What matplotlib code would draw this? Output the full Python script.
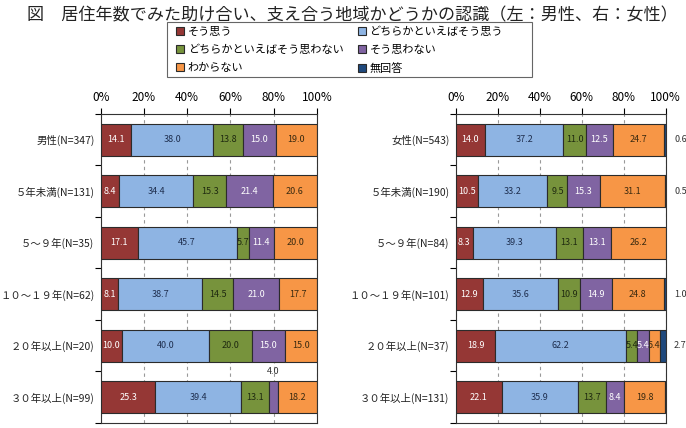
import matplotlib
matplotlib.use("Agg")
import matplotlib.pyplot as plt
from matplotlib.patches import Rectangle
import numpy as np

plt.rcParams["font.family"] = ["Noto Sans CJK JP", "DejaVu Sans"]

answers = ["そう思う", "どちらかといえばそう思う", "どちらかといえばそう思わない",
           "そう思わない", "わからない", "無回答"]
colors = ["#953735", "#8EB4E3", "#77933C", "#8064A2", "#F79646", "#1F497D"]
text_colors = ["white", "#1F2F4F", "#1F2A10", "white", "#3A2A10", "white"]

male_labels = ["男性(N=347)", "５年未満(N=131)", "５～９年(N=35)",
               "１０～１９年(N=62)", "２０年以上(N=20)", "３０年以上(N=99)"]
male_agree = [14.1, 8.4, 17.1, 8.1, 10.0, 25.3]
male_rather_agree = [38.0, 34.4, 45.7, 38.7, 40.0, 39.4]
male_rather_disagree = [13.8, 15.3, 5.7, 14.5, 20.0, 13.1]
male_disagree = [15.0, 21.4, 11.4, 21.0, 15.0, 4.0]
male_unknown = [19.0, 20.6, 20.0, 17.7, 15.0, 18.2]
male_noanswer = [0.0, 0.0, 0.0, 0.0, 0.0, 0.0]

female_labels = ["女性(N=543)", "５年未満(N=190)", "５～９年(N=84)",
                 "１０～１９年(N=101)", "２０年以上(N=37)", "３０年以上(N=131)"]
female_agree = [14.0, 10.5, 8.3, 12.9, 18.9, 22.1]
female_rather_agree = [37.2, 33.2, 39.3, 35.6, 62.2, 35.9]
female_rather_disagree = [11.0, 9.5, 13.1, 10.9, 5.4, 13.7]
female_disagree = [12.5, 15.3, 13.1, 14.9, 5.4, 8.4]
female_unknown = [24.7, 31.1, 26.2, 24.8, 5.4, 19.8]
female_noanswer = [0.6, 0.5, 0.0, 1.0, 2.7, 0.0]


def draw_panel(ax, labels, series):
    y = np.arange(len(labels))
    left = np.zeros(len(labels))
    handles = []
    for i, vals in enumerate(series):
        vals = np.array(vals)
        h = ax.barh(y, vals, left=left, height=0.62, color=colors[i],
                    edgecolor="#2b2b2b", linewidth=0.8, zorder=3, label=answers[i])
        handles.append(h)
        for j, v in enumerate(vals):
            if v <= 0:
                continue
            cx = left[j] + v / 2
            if i == 5:
                # no-answer values sit outside the right edge
                ax.text(107, y[j], f"{v:.1f}", ha="center", va="center",
                        fontsize=6.5, color="#333333", clip_on=False)
            elif v < 5:
                ax.text(cx, y[j] - 0.5, f"{v:.1f}", ha="center", va="center",
                        fontsize=6.5, color="#333333", zorder=5)
            else:
                ax.text(cx, y[j], f"{v:.1f}", ha="center", va="center",
                        fontsize=6.5, color=text_colors[i], zorder=5)
        left = left + vals
    ax.set_xlim(0, 100)
    ax.set_ylim(len(labels) - 0.5, -0.5)
    ax.set_yticks(y)
    ax.set_yticklabels(labels, fontsize=7.5, color="#222222")
    ax.set_yticks(np.arange(len(labels) + 1) - 0.5, minor=True)
    ax.tick_params(axis="y", which="major", length=0, pad=4.5)
    ax.tick_params(axis="y", which="minor", length=4, width=0.8)
    ax.set_xticks([0, 20, 40, 60, 80, 100])
    ax.set_xticklabels(["0%", "20%", "40%", "60%", "80%", "100%"], fontsize=8.5)
    ax.xaxis.tick_top()
    ax.tick_params(axis="x", length=4, width=0.8, pad=3)
    ax.grid(axis="x", linestyle=(0, (3, 3)), color="#999999", linewidth=0.8, zorder=0)
    for s in ax.spines.values():
        s.set_color("#333333")
        s.set_linewidth(0.8)
    return handles


fig = plt.figure(figsize=(6.86, 4.28), dpi=100)
ax1 = fig.add_axes([0.1468, 0.0117, 0.3153, 0.722])
ax2 = fig.add_axes([0.6643, 0.0117, 0.3061, 0.722])

handles = draw_panel(ax1, male_labels,
                     [male_agree, male_rather_agree, male_rather_disagree,
                      male_disagree, male_unknown, male_noanswer])
draw_panel(ax2, female_labels,
           [female_agree, female_rather_agree, female_rather_disagree,
            female_disagree, female_unknown, female_noanswer])

fig.text(0.039, 0.965, "図　居住年数でみた助け合い、支え合う地域かどうかの認識（左：男性、右：女性）",
         fontsize=12.3, ha="left", va="center", color="#222222")

# legend frame drawn separately so its size can match the reference
fig.patches.append(Rectangle((167 / 686, 1 - 77 / 428), 365 / 686, 55 / 428,
                             transform=fig.transFigure, fill=False,
                             edgecolor="#666666", linewidth=0.8))
order = [0, 2, 4, 1, 3, 5]
leg = fig.legend([handles[k] for k in order], [answers[k] for k in order],
                 ncol=2, loc="upper left", bbox_to_anchor=(176 / 686, 1 - 26 / 428),
                 fontsize=8, frameon=False, borderpad=0, borderaxespad=0,
                 handlelength=0.75, handleheight=0.75, handletextpad=0.3,
                 columnspacing=1.3, labelspacing=0.72)

fig.savefig("out.png", dpi=100)
